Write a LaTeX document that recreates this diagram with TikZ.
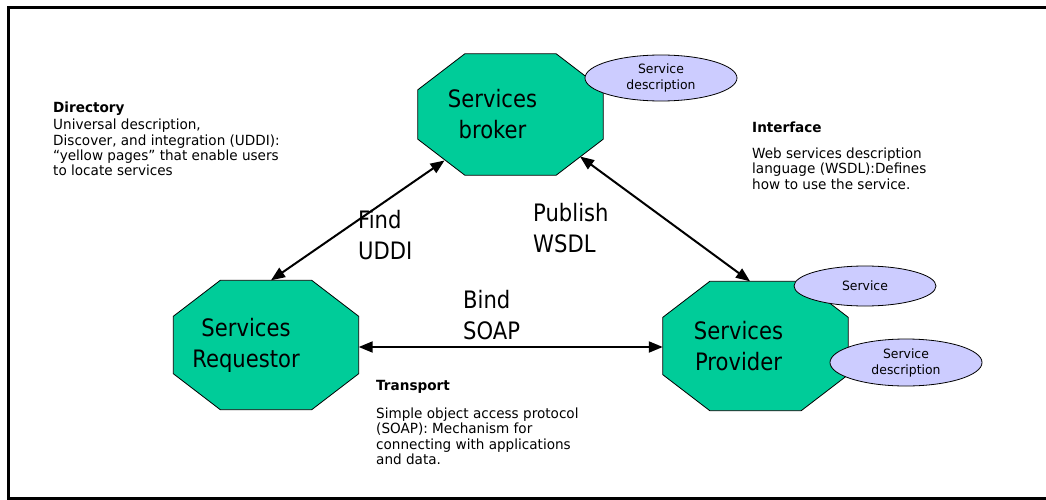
\documentclass[tikz,border=0pt]{standalone}
\usepackage{fontspec}
\setmainfont{DejaVu Sans}[FakeStretch=0.88]
\newfontfamily\notefam{DejaVu Sans}[FakeStretch=0.97]
\usetikzlibrary{shapes.geometric,arrows.meta}

\definecolor{octfill}{RGB}{0,204,153}
\definecolor{ellfill}{RGB}{204,204,255}

\newcommand{\bigtxt}{\fontsize{24}{31}\selectfont}
\newcommand{\smalltxt}{\notefam\fontsize{14}{15.4}\selectfont}
\newcommand{\elltxt}{\notefam\fontsize{12.8}{16}\selectfont}

\begin{document}
\begin{tikzpicture}[x=1pt, y=-1pt,
  octa/.style={rectangle, minimum width=185pt, minimum height=#1, inner sep=0pt},
  octline/.style={draw=black, fill=octfill, line width=0.8pt},
  octtext/.style={align=center, font=\bigtxt, inner sep=0pt},
  desc/.style={ellipse, draw=black, fill=ellfill, align=center,
    font=\elltxt, inner sep=0pt, line width=0.8pt},
  note/.style={align=left, anchor=north west, font=\smalltxt, inner sep=0pt},
  lbl/.style={align=left, anchor=north west, font=\bigtxt, inner sep=0pt},
  link/.style={{Triangle[length=14pt,width=11pt]}-{Triangle[length=14pt,width=11pt]},
    line width=2pt},
]

   \useasboundingbox (0,0) rectangle (1046,500);
   \fill[white] (0,0) rectangle (1046,500);
   \draw[line width=3pt] (8,8) rectangle (1060,498.5);

   % the three roles
   \node[octa=121pt] (brk) at (510.5,114.5) {};
   \node[octa=129pt] (req) at (266,345) {};
   \node[octa=129pt] (prov) at (755.5,346) {};

   \foreach \o in {brk,req,prov}
     \draw[octline] ([xshift=47pt]\o.north west) -- ([xshift=-47pt]\o.north east)
       -- ([yshift=-36pt]\o.north east) -- ([yshift=36pt]\o.south east)
       -- ([xshift=-47pt]\o.south east) -- ([xshift=47pt]\o.south west)
       -- ([yshift=36pt]\o.south west) -- ([yshift=-36pt]\o.north west) -- cycle;

   \node[octtext] (brktxt) at ([xshift=-18pt]brk.center) {Services\\broker};
   \node[octtext] (reqtxt) at ([xshift=-20pt]req.center) {Services\\Requestor};
   \node[octtext] (provtxt) at ([xshift=-17pt]prov.center) {Services\\Provider};

   % descriptions
   \node[desc, minimum width=152pt, minimum height=46pt] (brkdesc) at (661,78) {Service\\description};
   \node[desc, minimum width=142pt, minimum height=40pt] (prsvc) at (865,286) {Service};
   \node[desc, minimum width=152pt, minimum height=47pt] (prdesc) at (906,362.5) {Service\\description};

   % operations
   \draw[link] ([xshift=5pt]req.north) -- ([xshift=-66pt,yshift=-46pt]brk.center);
   \draw[link] ([xshift=69.5pt,yshift=-42pt]brk.center) -- ([xshift=-5.5pt]prov.north);
   \draw[link] ([yshift=-2pt]req.east) -- ([yshift=-2pt]req.east -| prov.west);

   \node[lbl] (find) at (358,210.5) {Find\\UDDI};
   \node[lbl] (pub) at (533,203.5) {Publish\\WSDL};
   \node[lbl] (bind) at (463,290.5) {Bind\\SOAP};

   % notes
   \node[note] (dir) at (53,102) {{\bfseries Directory}\\[1.5pt]
      Universal description,\\ Discover, and integration (UDDI):\\
      “yellow pages” that enable users\\ to locate services};
   \node[note] (intf) at (752,121.5) {{\bfseries Interface}\\[10.5pt]
      Web services description\\ language (WSDL):Defines\\ how to use the service.};
   \node[note] (trans) at (376,380) {{\bfseries Transport}\\[12.5pt]
      Simple object access protocol\\ (SOAP): Mechanism for\\
      connecting with applications\\ and data.};

\end{tikzpicture}
\end{document}
